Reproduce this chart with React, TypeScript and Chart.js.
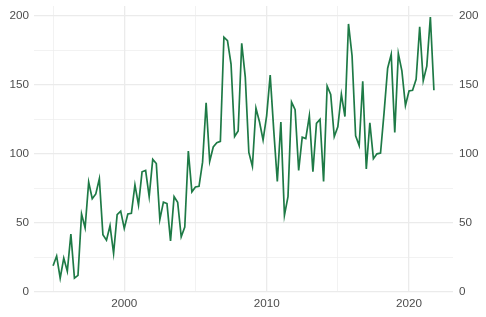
import React, { useEffect, useRef } from 'react';
import { Chart, registerables } from 'chart.js';

Chart.register(...registerables);

// Quarterly series, 1995 Q1 .. 2021 Q4
const firstYear = 1995;
const periodsPerYear = 4;
const values = [
  19, 26, 10, 24.5, 15, 42, 10, 12, 56.5, 46.5,
  79.5, 67.5, 71, 82, 41.5, 37.5, 48, 28, 56, 58.5,
  46, 56.5, 57, 77.5, 63, 87, 88, 69, 96, 93,
  52.5, 65, 64, 37, 69, 65, 40, 47, 102, 72.5,
  76, 76.5, 94, 137, 94.5, 105, 108, 109, 184.5, 182,
  165, 112.5, 116.5, 180, 155.5, 101, 91, 133, 123, 110,
  127.5, 157, 117, 80, 123, 55.5, 69, 137.5, 132, 88,
  112, 111, 127.5, 87, 122, 125, 80, 149, 143, 112.5,
  119.5, 143, 127, 194, 171, 113, 106, 152.5, 89, 122.5,
  96.5, 100, 100.5, 130, 162, 172, 115.5, 172.5, 160, 135,
  145.5, 146, 154, 192, 153, 163.5, 199, 146,
];

const xGridTicks = [1995, 2000, 2005, 2010, 2015, 2020];
const xLabelTicks = [2000, 2010, 2020];
const yGridTicks = [0, 25, 50, 75, 100, 125, 150, 175, 200];
const yLabelTicks = [0, 50, 100, 150, 200];

const xMin = 1993.66;
const xMax = 2023.09;
const yMin = 0;
const yMax = 207;

const lineColor = '#1e7a46';
const gridColor = '#ebebeb';
const textColor = '#4d4d4d';
const fontFamily = "'Liberation Sans', Arial, Helvetica, sans-serif";

export default function App() {
  const ref = useRef<HTMLCanvasElement | null>(null);

  useEffect(() => {
    document.body.style.margin = '0';
    const canvas = ref.current;
    if (!canvas) return;

    const points = values.map((v, i) => ({ x: firstYear + i / periodsPerYear, y: v }));

    const font = { family: fontFamily, size: 11.7 };
    const noPad = (scale: any) => {
      scale.paddingTop = 0;
      scale.paddingBottom = 0;
      scale.paddingLeft = 0;
      scale.paddingRight = 0;
    };

    const chart = new Chart(canvas, {
      type: 'line',
      data: {
        datasets: [
          {
            data: points,
            borderColor: lineColor,
            borderWidth: 1.7,
            pointRadius: 0,
            tension: 0,
            fill: false,
            yAxisID: 'y',
          },
        ],
      },
      options: {
        responsive: false,
        animation: false,
        events: [],
        layout: { padding: { top: 6, left: 0, right: 0, bottom: 0 } },
        plugins: { legend: { display: false }, tooltip: { enabled: false } },
        scales: {
          x: {
            type: 'linear',
            min: xMin,
            max: xMax,
            afterBuildTicks: (scale: any) => {
              scale.ticks = xGridTicks.map((v) => ({ value: v }));
            },
            afterFit: (scale: any) => {
              scale.height = 25;
              noPad(scale);
            },
            ticks: {
              autoSkip: false,
              maxRotation: 0,
              padding: 5,
              color: textColor,
              font,
              callback: (v: any) => (xLabelTicks.includes(Number(v)) ? String(v) : ''),
            },
            grid: {
              color: gridColor,
              drawTicks: false,
              lineWidth: (ctx: any) =>
                ctx.tick && xLabelTicks.includes(ctx.tick.value) ? 1.3 : 0.65,
            },
            border: { display: false },
          },
          y: {
            type: 'linear',
            position: 'left',
            min: yMin,
            max: yMax,
            afterBuildTicks: (scale: any) => {
              scale.ticks = yGridTicks.map((v) => ({ value: v }));
            },
            afterFit: (scale: any) => {
              scale.width = 34;
              noPad(scale);
            },
            ticks: {
              autoSkip: false,
              padding: 5,
              color: textColor,
              font,
              callback: (v: any) => (yLabelTicks.includes(Number(v)) ? String(v) : ''),
            },
            grid: {
              color: gridColor,
              drawTicks: false,
              lineWidth: (ctx: any) =>
                ctx.tick && yLabelTicks.includes(ctx.tick.value) ? 1.3 : 0.65,
            },
            border: { display: false },
          },
          y2: {
            type: 'linear',
            position: 'right',
            min: yMin,
            max: yMax,
            afterBuildTicks: (scale: any) => {
              scale.ticks = yGridTicks.map((v) => ({ value: v }));
            },
            afterFit: (scale: any) => {
              scale.width = 33;
              noPad(scale);
            },
            ticks: {
              autoSkip: false,
              padding: 6,
              color: textColor,
              font,
              callback: (v: any) => (yLabelTicks.includes(Number(v)) ? String(v) : ''),
            },
            grid: { display: false, drawTicks: false },
            border: { display: false },
          },
        },
      },
    });

    return () => chart.destroy();
  }, []);

  return (
    <div style={{ width: 486, height: 317, background: '#ffffff' }}>
      <canvas ref={ref} width={486} height={317} style={{ display: 'block' }} />
    </div>
  );
}
